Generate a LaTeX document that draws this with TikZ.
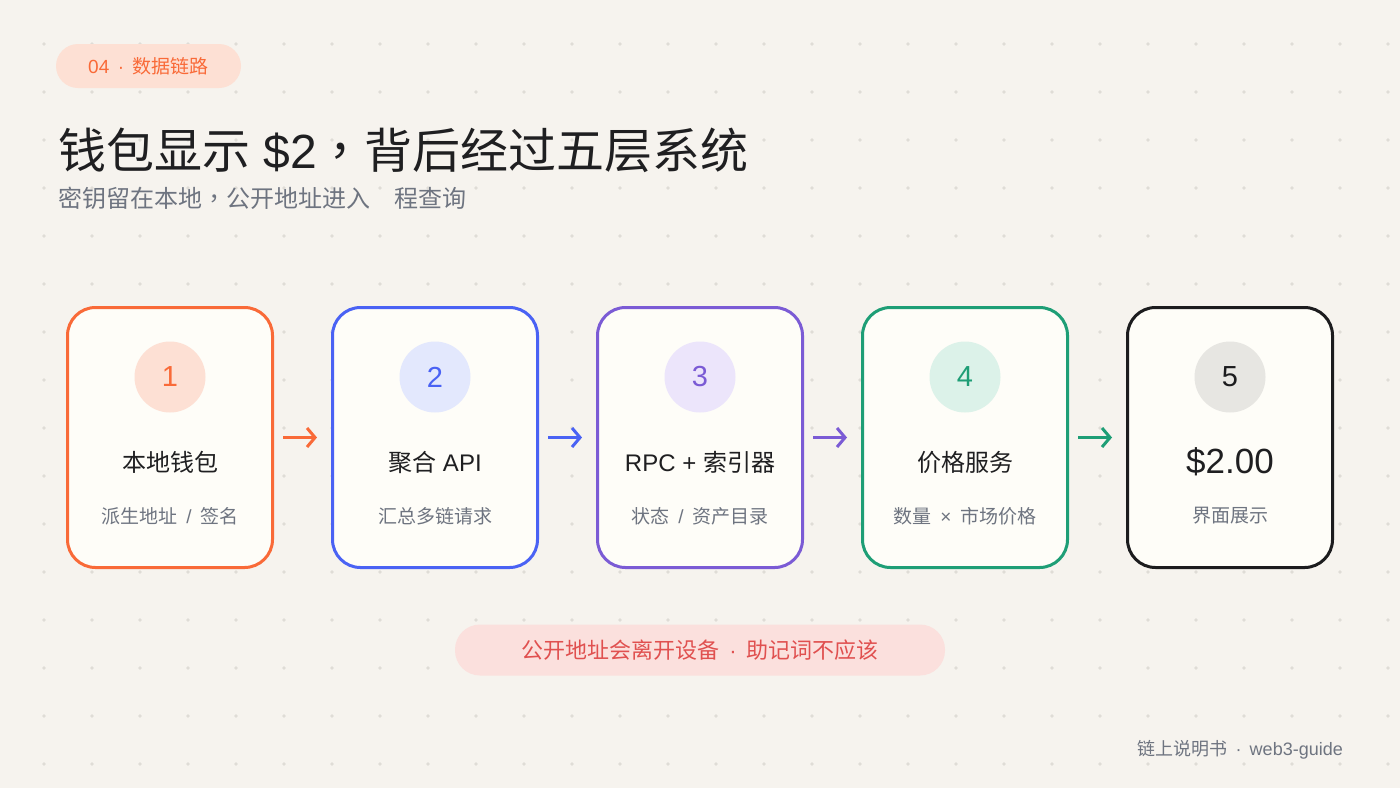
\documentclass[tikz,border=0pt]{standalone}
\usepackage{fontspec}
\setmainfont{Liberation Sans}
\newfontfamily\cjk{Noto Sans CJK SC}
\newfontfamily\cjktc{Noto Sans CJK TC}
\usetikzlibrary{arrows.meta}
\definecolor{bg}{HTML}{F6F3EE}
\definecolor{dotc}{HTML}{DFDCD6}
\definecolor{cOrange}{HTML}{F96A38}
\definecolor{cBlue}{HTML}{4A62F4}
\definecolor{cPurple}{HTML}{7B5BD5}
\definecolor{cGreen}{HTML}{1E9E76}
\definecolor{cDark}{HTML}{1C1C1E}
\definecolor{lOrange}{HTML}{FDE0D4}
\definecolor{lBlue}{HTML}{E3E8FD}
\definecolor{lPurple}{HTML}{ECE5FB}
\definecolor{lGreen}{HTML}{DCF2E9}
\definecolor{lGray}{HTML}{E7E6E2}
\definecolor{grayText}{HTML}{6E7480}
\definecolor{cardFill}{HTML}{FEFDF8}
\definecolor{pillRed}{HTML}{FBE0DD}
\definecolor{textRed}{HTML}{E0504F}
\definecolor{titleC}{HTML}{1F1F21}
\newcommand{\fs}[1]{\fontsize{#1}{#1}\selectfont}
\newcommand{\cm}{{\cjktc ，}}
\newcommand{\sep}[1]{\hspace{0.45em}{\rmfamily #1}\hspace{0.45em}}
\tikzset{
  card/.style={draw, line width=3pt, fill=cardFill, rounded corners=28pt,
    minimum width=205pt, minimum height=260pt, inner sep=0pt},
  numc/.style={circle, minimum size=71pt, inner sep=0pt, font=\fs{29}},
  ctitle/.style={font=\fs{24}, text=titleC, inner sep=0pt},
  csub/.style={font=\fs{19}\cjk, text=grayText, inner sep=0pt},
  arr/.style={line width=3pt, -{Straight Barb[length=8pt,width=19pt]},
    shorten <=9pt, shorten >=14pt},
}
\begin{document}
\begin{tikzpicture}[x=1pt,y=-1pt]
\useasboundingbox (0,0) rectangle (1400,788);
\fill[bg] (0,0) rectangle (1400,788);
\foreach \i in {0,...,28}{
  \foreach \j in {0,...,15}{
    \fill[dotc] ({44+48*\i},{44+48*\j}) circle (1.9pt);
  }
}
% tag pill
\node[fill=lOrange, rounded corners=22pt, minimum width=185pt, minimum height=44pt,
  inner sep=0pt, text=cOrange, font=\fs{19}] (tag) at (148.5,66)
  {04\sep{·}{\cjk 数据链路}};
% title
\node[anchor=west, inner sep=0pt, text=titleC, font=\fs{48}] (title) at (58,150)
  {{\cjk 钱包显示} \$2\cm{\cjk 背后经过五层系统}};
\node[anchor=west, inner sep=0pt, text=grayText, font=\fs{24}\cjk] (subtitle) at (58,198)
  {密钥留在本地\cm 公开地址进入\hspace{1em}程查询};
% cards
\node[card, draw=cOrange] (b1) at (170,437.5) {};
\node[card, draw=cBlue] (b2) at (435,437.5) {};
\node[card, draw=cPurple] (b3) at (700,437.5) {};
\node[card, draw=cGreen] (b4) at (965,437.5) {};
\node[card, draw=cDark] (b5) at (1230,437.5) {};
% number circles
\node[numc, fill=lOrange, text=cOrange] (n1) at (170,377) {1};
\node[numc, fill=lBlue, text=cBlue] (n2) at (435,377) {2};
\node[numc, fill=lPurple, text=cPurple] (n3) at (700,377) {3};
\node[numc, fill=lGreen, text=cGreen] (n4) at (965,377) {4};
\node[numc, fill=lGray, text=cDark] (n5) at (1230,377) {5};
% card titles
\node[ctitle] (t1) at (170,462) {\cjk 本地钱包};
\node[ctitle] (t2) at (435,462) {{\cjk 聚合} API};
\node[ctitle] (t3) at (700,462) {RPC + {\cjk 索引器}};
\node[ctitle] (t4) at (965,462) {\cjk 价格服务};
\node[ctitle, font=\fs{35}] (t5) at (1230,462) {\$2.00};
% card subtitles
\node[csub] (s1) at (170,516) {派生地址\sep{/}签名};
\node[csub] (s2) at (435,516) {汇总多链请求};
\node[csub] (s3) at (700,516) {状态\sep{/}资产目录};
\node[csub] (s4) at (965,516) {数量\sep{×}市场价格};
\node[csub] (s5) at (1230,516) {界面展示};
% arrows
\draw[arr, cOrange] (b1.east) -- (b2.west);
\draw[arr, cBlue] (b2.east) -- (b3.west);
\draw[arr, cPurple] (b3.east) -- (b4.west);
\draw[arr, cGreen] (b4.east) -- (b5.west);
% bottom pill
\node[fill=pillRed, rounded corners=25pt, minimum width=490pt, minimum height=51pt,
  inner sep=0pt, text=textRed, font=\fs{22}] (note) at (700,650)
  {{\cjk 公开地址会离开设备}\sep{·}{\cjk 助记词不应该}};
% footer
\node[anchor=east, inner sep=0pt, text=grayText, font=\fs{18}] (footer) at (1343,750)
  {{\cjk 链上说明书}\sep{·}web3-guide};
\end{tikzpicture}
\end{document}
